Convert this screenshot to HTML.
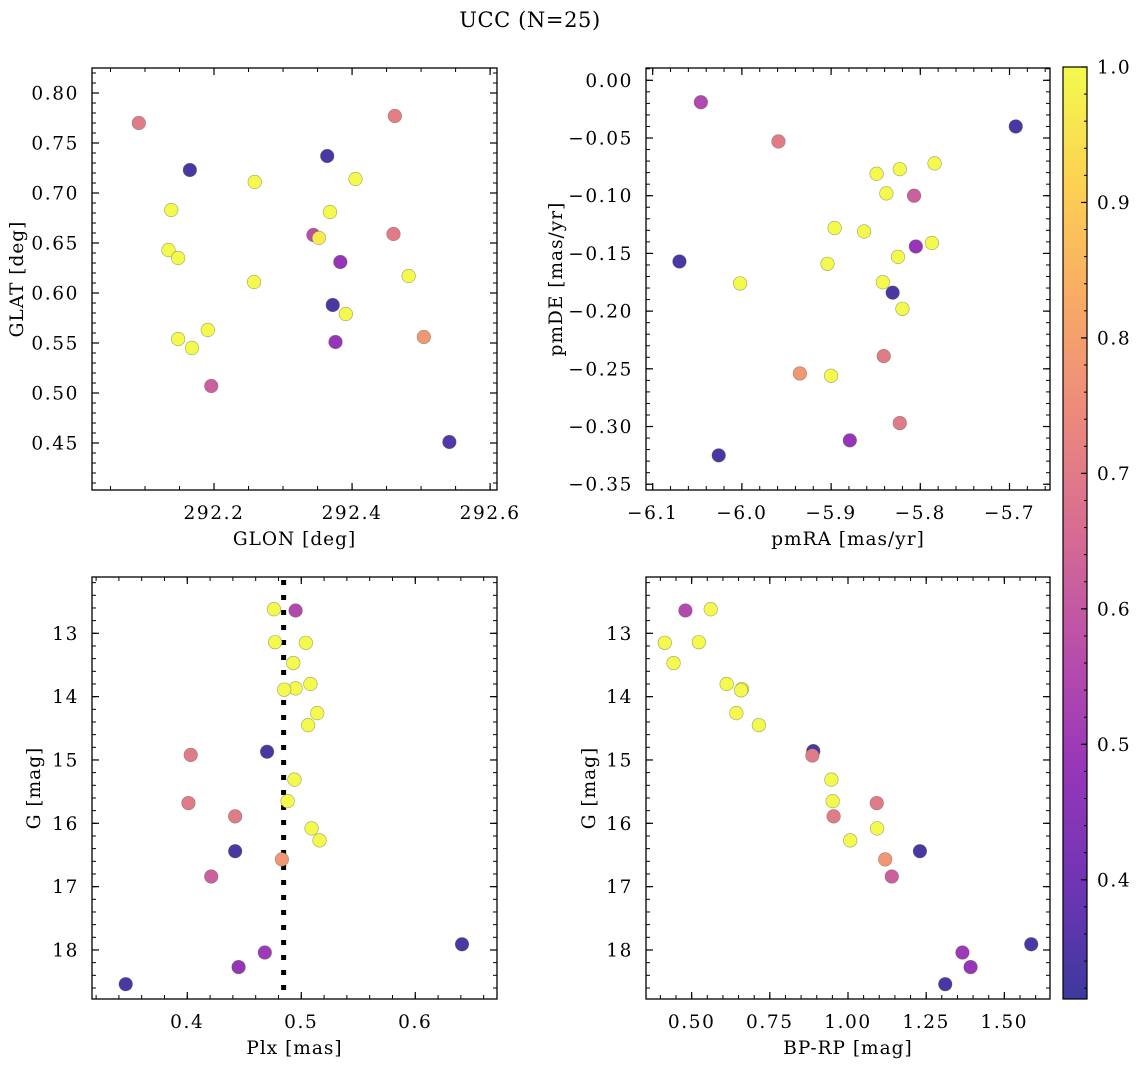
<!DOCTYPE html>
<html><head><meta charset="utf-8"><style>
html,body{margin:0;padding:0;background:#fff;}
svg{display:block;font-family:"DejaVu Serif","Liberation Serif",serif;}
</style></head><body>
<svg id="fig" width="1136" height="1067" viewBox="0 0 1136 1067" xmlns="http://www.w3.org/2000/svg">
<defs>
<linearGradient id="cbgrad" x1="0" y1="1" x2="0" y2="0">
<stop offset="0" stop-color="#3d399f"/><stop offset="0.125" stop-color="#7035b4"/><stop offset="0.25" stop-color="#9836b9"/><stop offset="0.375" stop-color="#ba4faa"/><stop offset="0.5" stop-color="#d66c93"/><stop offset="0.625" stop-color="#eb897d"/><stop offset="0.75" stop-color="#f9aa66"/><stop offset="0.875" stop-color="#fdd152"/><stop offset="1" stop-color="#f3fa4d"/>
</linearGradient>
</defs>
<text x="530" y="27" text-anchor="middle" font-size="21" letter-spacing="0.6">UCC (N=25)</text>
</svg>
<script>
// ---- data ----
const glon = [292.091,292.462,292.165,292.364,292.259,292.405,292.138,292.368,292.344,292.352,292.460,292.134,292.148,292.383,292.482,292.258,292.372,292.391,292.191,292.148,292.168,292.376,292.504,292.196,292.541];
const glat = [0.770,0.777,0.723,0.737,0.711,0.714,0.683,0.681,0.658,0.655,0.659,0.643,0.635,0.631,0.617,0.611,0.588,0.579,0.563,0.554,0.545,0.551,0.556,0.507,0.451];
const probA = [0.70,0.71,0.33,0.33,1,1,1,1,0.57,0.97,0.70,1,1,0.48,1,1,0.33,1,1,1,1,0.48,0.78,0.62,0.35];
const pmra = [-6.046,-5.959,-5.693,-5.849,-5.823,-5.784,-5.838,-5.807,-5.896,-5.863,-5.787,-5.805,-6.070,-5.825,-5.904,-6.002,-5.842,-5.831,-5.820,-5.841,-5.935,-5.900,-5.823,-5.879,-6.026];
const pmde = [-0.019,-0.053,-0.040,-0.081,-0.077,-0.072,-0.098,-0.100,-0.128,-0.131,-0.141,-0.144,-0.157,-0.153,-0.159,-0.176,-0.175,-0.184,-0.198,-0.239,-0.254,-0.256,-0.297,-0.312,-0.325];
const probB = [0.55,0.70,0.33,1,1,1,1,0.62,1,1,1,0.48,0.33,1,1,1,1,0.33,1,0.70,0.78,1,0.70,0.48,0.33];
const plx = [0.476,0.495,0.477,0.504,0.493,0.508,0.495,0.485,0.514,0.506,0.470,0.403,0.494,0.488,0.401,0.442,0.509,0.516,0.442,0.483,0.421,0.641,0.468,0.445,0.346];
const gmagC = [12.62,12.64,13.14,13.15,13.47,13.80,13.87,13.89,14.26,14.45,14.87,14.92,15.31,15.65,15.68,15.89,16.08,16.27,16.44,16.57,16.84,17.91,18.04,18.27,18.54];
const probC = [1,0.55,1,1,1,1,1,1,1,1,0.33,0.70,1,1,0.70,0.70,1,1,0.33,0.78,0.62,0.33,0.50,0.48,0.33];
const bprp = [0.480,0.561,0.414,0.523,0.442,0.612,0.661,0.658,0.643,0.715,0.889,0.886,0.947,0.951,1.092,0.954,1.093,1.007,1.230,1.119,1.140,1.586,1.366,1.392,1.311];
const gmagD = [12.64,12.62,13.15,13.14,13.47,13.80,13.88,13.90,14.26,14.45,14.86,14.93,15.31,15.65,15.68,15.89,16.08,16.27,16.44,16.57,16.84,17.91,18.04,18.27,18.54];
const probD = [0.55,1,1,1,1,1,1,1,1,1,0.33,0.70,1,1,0.70,0.70,1,1,0.33,0.78,0.62,0.33,0.50,0.48,0.33];
const plxMedian = 0.4845;
const cbTicks = [0.4,0.5,0.6,0.7,0.8,0.9,1.0];
const ticks1x = [292.2,292.4,292.6], ticks1y = [0.45,0.50,0.55,0.60,0.65,0.70,0.75,0.80];
const ticks2x = [-6.1,-6.0,-5.9,-5.8,-5.7], ticks2y = [0,-0.05,-0.10,-0.15,-0.20,-0.25,-0.30,-0.35];
const ticks3x = [0.4,0.5,0.6], ticksGy = [13,14,15,16,17,18];
const ticks4x = [0.50,0.75,1.00,1.25,1.50];

const NS="http://www.w3.org/2000/svg";
const svg=document.getElementById('fig');
const TFS=18.5, TLS=1.6, AFS=18.5, ALS=1.0;
function mk(t,a,p){const e=document.createElementNS(NS,t);for(const k in a)e.setAttribute(k,a[k]);(p||svg).appendChild(e);return e;}
const stops=[[0,[13,8,135]],[0.125,[76,2,161]],[0.25,[126,3,168]],[0.375,[169,35,149]],[0.5,[204,71,120]],[0.625,[229,107,93]],[0.75,[248,149,64]],[0.875,[253,197,39]],[1,[240,249,33]]];
const VMIN=0.312,VMAX=1.0;
function cmap(v){let t=(v-VMIN)/(VMAX-VMIN);t=Math.max(0,Math.min(1,t));
 for(let i=1;i<stops.length;i++){if(t<=stops[i][0]){const a=stops[i-1],b=stops[i];const f=(t-a[0])/(b[0]-a[0]);
 const c=a[1].map((x,j)=>Math.round((x+(b[1][j]-x)*f)*0.8+255*0.2));return `rgb(${c[0]},${c[1]},${c[2]})`;}}return '#f3fa4d';}
function fmt(v,d){return (v<0?'\u2212':'')+Math.abs(v).toFixed(d);}

function panel(o){
 const g=mk('g',{});
 
 
 const sx=v=>o.x0+(v-o.xmin)/(o.xmax-o.xmin)*(o.x1-o.x0);
 const sy=v=>o.yinv? o.y0+(v-o.ymin)/(o.ymax-o.ymin)*(o.y1-o.y0) : o.y1-(v-o.ymin)/(o.ymax-o.ymin)*(o.y1-o.y0);
 const xs=o.xt[1]-o.xt[0], ys=o.yt[1]-o.yt[0];
 const mx=xs/o.xdiv, my=ys/o.ydiv;
 for(let v=o.xt[0]-10*xs;v<=o.xt[o.xt.length-1]+10*xs;v+=mx){const p=sx(v);if(p<o.x0+0.5||p>o.x1-0.5)continue;
  mk('line',{x1:p,x2:p,y1:o.y1,y2:o.y1-4,stroke:'#000','stroke-width':1},g);mk('line',{x1:p,x2:p,y1:o.y0,y2:o.y0+4,stroke:'#000','stroke-width':1},g);}
 for(let v=Math.min(...o.yt)-10*Math.abs(ys);v<=Math.max(...o.yt)+10*Math.abs(ys);v+=Math.abs(my)){const p=sy(v);if(p<o.y0+0.5||p>o.y1-0.5)continue;
  mk('line',{x1:o.x0,x2:o.x0+4,y1:p,y2:p,stroke:'#000','stroke-width':1},g);mk('line',{x1:o.x1,x2:o.x1-4,y1:p,y2:p,stroke:'#000','stroke-width':1},g);}
 o.xt.forEach(v=>{const p=sx(v);
  mk('line',{x1:p,x2:p,y1:o.y1,y2:o.y1-7,stroke:'#000','stroke-width':1.2},g);mk('line',{x1:p,x2:p,y1:o.y0,y2:o.y0+7,stroke:'#000','stroke-width':1.2},g);
  const t=mk('text',{x:p,y:o.y1+29,'text-anchor':'middle','font-size':TFS,'letter-spacing':TLS},g);t.textContent=fmt(v,o.xd);
  
  });
 o.yt.forEach(v=>{const p=sy(v);
  mk('line',{x1:o.x0,x2:o.x0+7,y1:p,y2:p,stroke:'#000','stroke-width':1.2},g);mk('line',{x1:o.x1,x2:o.x1-7,y1:p,y2:p,stroke:'#000','stroke-width':1.2},g);
  const t=mk('text',{x:o.x0-13,y:p+6.5,'text-anchor':'end','font-size':TFS,'letter-spacing':TLS},g);t.textContent=fmt(v,o.yd);
  
  });
 if(o.vline!==undefined){const p=sx(o.vline);const l=mk('line',{x1:p,x2:p,y1:o.y0,y2:o.y1,stroke:'#000','stroke-width':5,'stroke-dasharray':'5 10','stroke-dashoffset':-3},g);
  
  }
 o.xs.forEach((xv,i)=>{const c=mk('circle',{cx:sx(xv),cy:sy(o.ys[i]),r:6.8,fill:cmap(o.c[i]),stroke:'rgba(90,90,60,0.55)','stroke-width':0.6},g);
  
  });
 const fr=mk('rect',{x:o.x0,y:o.y0,width:o.x1-o.x0,height:o.y1-o.y0,fill:'none',stroke:'#000','stroke-width':1.3},g);
 
 
 const xl=mk('text',{x:(o.x0+o.x1)/2,y:o.y1+55,'text-anchor':'middle','font-size':AFS,'letter-spacing':ALS},g);xl.textContent=o.xl;
 
 
 const cy=(o.y0+o.y1)/2;const yl=mk('text',{x:o.ylx,y:cy,'text-anchor':'middle','font-size':AFS,'letter-spacing':ALS,transform:`rotate(-90 ${o.ylx} ${cy})`},g);yl.textContent=o.yl;
 
 
}
panel({name:'glon-glat-panel',x0:92,x1:497,y0:68,y1:490,xmin:292.0232,xmax:292.610,ymin:0.403,ymax:0.825,xt:ticks1x,yt:ticks1y,xdiv:4,ydiv:5,xd:1,yd:2,xs:glon,ys:glat,c:probA,xl:'GLON [deg]',yl:'GLAT [deg]',ylx:23});
panel({name:'pm-panel',x0:646,x1:1050,y0:68,y1:490,xmin:-6.1075,xmax:-5.6546,ymin:-0.355,ymax:0.01066,xt:ticks2x,yt:ticks2y,xdiv:5,ydiv:5,xd:1,yd:2,xs:pmra,ys:pmde,c:probB,xl:'pmRA [mas/yr]',yl:'pmDE [mas/yr]',ylx:562});
panel({name:'plx-g-panel',x0:92,x1:497,y0:577,y1:999,xmin:0.3164,xmax:0.6717,ymin:12.111,ymax:18.774,yinv:true,xt:ticks3x,yt:ticksGy,xdiv:5,ydiv:5,xd:1,yd:0,xs:plx,ys:gmagC,c:probC,xl:'Plx [mas]',yl:'G [mag]',ylx:40,vline:plxMedian});
panel({name:'cmd-panel',x0:646,x1:1050,y0:577,y1:999,xmin:0.354,xmax:1.646,ymin:12.111,ymax:18.774,yinv:true,xt:ticks4x,yt:ticksGy,xdiv:5,ydiv:5,xd:2,yd:0,xs:bprp,ys:gmagD,c:probD,xl:'BP-RP [mag]',yl:'G [mag]',ylx:595});
const cb=mk('g',{});


const CT=67,CB=999;
mk('rect',{x:1063,y:CT,width:24,height:CB-CT,fill:'url(#cbgrad)',stroke:'#000','stroke-width':1.2},cb);
const cy=v=>CB-(v-VMIN)/(VMAX-VMIN)*(CB-CT);
for(let v=0.32;v<1.0;v+=0.02){const p=cy(v);mk('line',{x1:1087,x2:1084,y1:p,y2:p,stroke:'#000','stroke-width':1},cb);}
cbTicks.forEach(v=>{const p=cy(v);mk('line',{x1:1087,x2:1081,y1:p,y2:p,stroke:'#000','stroke-width':1.2},cb);
 const t=mk('text',{x:1097,y:p+6.5,'font-size':TFS,'letter-spacing':TLS},cb);t.textContent=v.toFixed(1);
 
 });
</script>
</body></html>
